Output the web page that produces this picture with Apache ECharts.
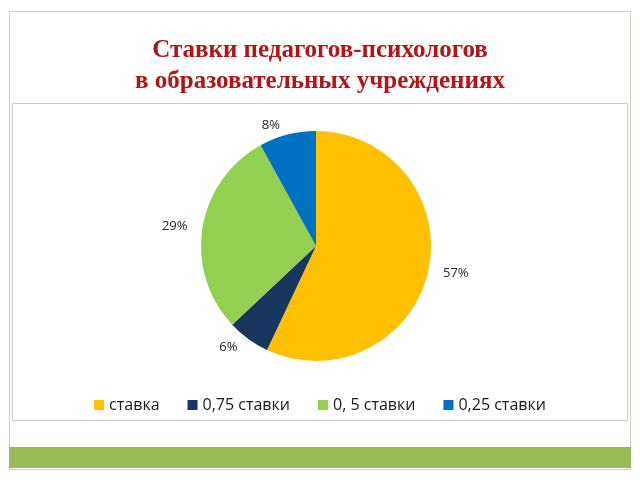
<!DOCTYPE html>
<html><head><meta charset="utf-8">
<script src="https://cdn.jsdelivr.net/npm/echarts@6/dist/echarts.min.js"></script>
<style>html,body{margin:0;padding:0;background:#fff}#c{width:640px;height:480px}</style>
</head><body><div id="c"></div>
<script>
const categories = ['ставка', '0,75 ставки', '0, 5 ставки', '0,25 ставки'];
const values = [57, 6, 29, 8];
const colors = ['#FFC000', '#17375E', '#92D050', '#0070C0'];
const titleLines = ['Ставки педагогов-психологов', 'в образовательных учреждениях'];

const chart = echarts.init(document.getElementById('c'), null, {renderer: 'canvas'});
chart.setOption({
  backgroundColor: '#ffffff',
  animation: false,
  title: {
    text: titleLines.join('\n'),
    left: 'center', top: 30,
    textStyle: {fontFamily: 'Liberation Serif', fontWeight: 'bold', fontSize: 25, color: '#B01518', lineHeight: 31}
  },
  graphic: [
    {type: 'rect', shape: {x: 9.5, y: 11.5, width: 621, height: 458}, style: {fill: 'none', stroke: '#cdd3c4', lineWidth: 1}, z: -10},
    {type: 'rect', shape: {x: 12.5, y: 103.5, width: 615, height: 317}, style: {fill: 'none', stroke: '#cfcfcf', lineWidth: 1}, z: -10},
    {type: 'rect', shape: {x: 9, y: 447, width: 622, height: 21}, style: {fill: '#9BBB59'}, z: -10}
  ],
  legend: {
    bottom: 62, left: 'center',
    itemWidth: 10, itemHeight: 10, itemGap: 28,
    icon: 'rect',
    textStyle: {fontFamily: 'Open Sans', fontSize: 16, color: '#1a1a1a'},
    data: categories
  },
  series: [{
    type: 'pie',
    center: [316, 246],
    radius: 115,
    startAngle: 90,
    clockwise: true,
    label: {
      show: true, position: 'outside', formatter: '{d}%',
      fontFamily: 'Open Sans', fontSize: 13, color: '#262626'
    },
    labelLine: {show: false, length: 10, length2: 0},
    itemStyle: {borderWidth: 0},
    emphasis: {disabled: true},
    data: categories.map((n, i) => ({name: n, value: values[i], itemStyle: {color: colors[i]}}))
  }]
});
</script></body></html>
